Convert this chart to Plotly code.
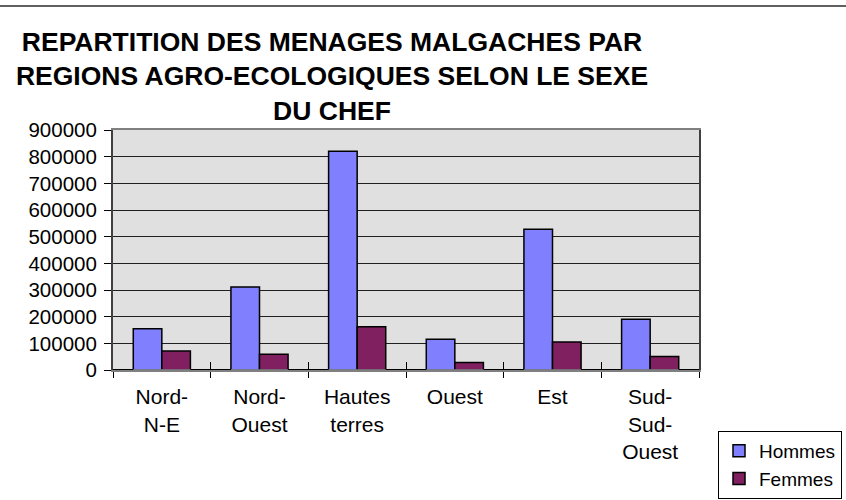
import plotly.graph_objects as go

categories = ["Nord-<br>N-E", "Nord-<br>Ouest", "Hautes<br>terres", "Ouest", "Est", "Sud-<br>Sud-<br>Ouest"]
hommes = [155000, 311000, 820000, 115000, 528000, 190000]
femmes = [71000, 59000, 162000, 28000, 105000, 51000]
series_names = ["Hommes", "Femmes"]
title_text = "REPARTITION DES MENAGES MALGACHES PAR<br>REGIONS AGRO-ECOLOGIQUES SELON LE SEXE<br>DU CHEF"

FONT = "Liberation Sans, Arial, sans-serif"

fig = go.Figure()
fig.add_trace(go.Bar(x=categories, y=hommes, name=series_names[0],
                     marker=dict(color="#8080FF", line=dict(color="#000000", width=1.5))))
fig.add_trace(go.Bar(x=categories, y=femmes, name=series_names[1],
                     marker=dict(color="#802060", line=dict(color="#000000", width=1.5))))

fig.update_layout(
    width=846, height=500,
    margin=dict(l=113, r=147, t=130, b=130, autoexpand=False),
    paper_bgcolor="white", plot_bgcolor="#E0E0E0",
    font=dict(family=FONT, color="black", size=20),
    title=dict(text=title_text, x=332/846, xanchor="center", xref="container",
               y=1-51/500, yanchor="top", yref="container",
               font=dict(family=FONT, size=26.5, color="black", weight="bold")),
    barmode="group", bargap=0.415, bargroupgap=0,
    showlegend=True,
    legend=dict(x=718/846, xanchor="left", y=1-431/500, yanchor="top",
                xref="container", yref="container",
                bordercolor="black", borderwidth=1, bgcolor="white",
                font=dict(family=FONT, size=19), traceorder="normal",
                itemwidth=30, tracegroupgap=0),
    xaxis=dict(type="category", tickson="boundaries", ticks="outside", ticklen=6,
               tickcolor="black", tickwidth=1, showline=True, linecolor="#808080",
               linewidth=2, mirror=True, showgrid=False, ticklabelstandoff=7,
               tickfont=dict(family=FONT, size=21), range=[-0.5, 5.5]),
    xaxis2=dict(type="category", overlaying="x", side="bottom", tickson="boundaries",
                ticks="inside", ticklen=8, tickcolor="black", tickwidth=1,
                showticklabels=False, showline=False, showgrid=False,
                categoryorder="array", categoryarray=categories, range=[-0.5, 5.5],
                matches="x"),
    yaxis=dict(range=[0, 900000], dtick=100000, tick0=0, tickformat="d",
               ticks="outside", ticklen=7, tickcolor="black", tickwidth=1,
               showline=True, linecolor="#404040", linewidth=2, mirror=True,
               showgrid=True, gridcolor="#202020", gridwidth=1,
               zeroline=True, zerolinecolor="black", zerolinewidth=2,
               ticklabelstandoff=3,
               tickfont=dict(family=FONT, size=20.5)),
    shapes=[dict(type="line", xref="paper", yref="paper",
                 x0=-113/586, x1=(846-113)/586, y0=(370-6)/240, y1=(370-6)/240,
                 line=dict(color="#606060", width=2))],
)
fig.add_trace(go.Bar(x=categories, y=[0]*len(categories), xaxis="x2", showlegend=False,
                     hoverinfo="skip", marker=dict(color="rgba(0,0,0,0)")))

fig.write_html("out.html", config={"displayModeBar": False},
               post_script="document.body.style.margin='0';document.body.style.overflow='hidden';")
